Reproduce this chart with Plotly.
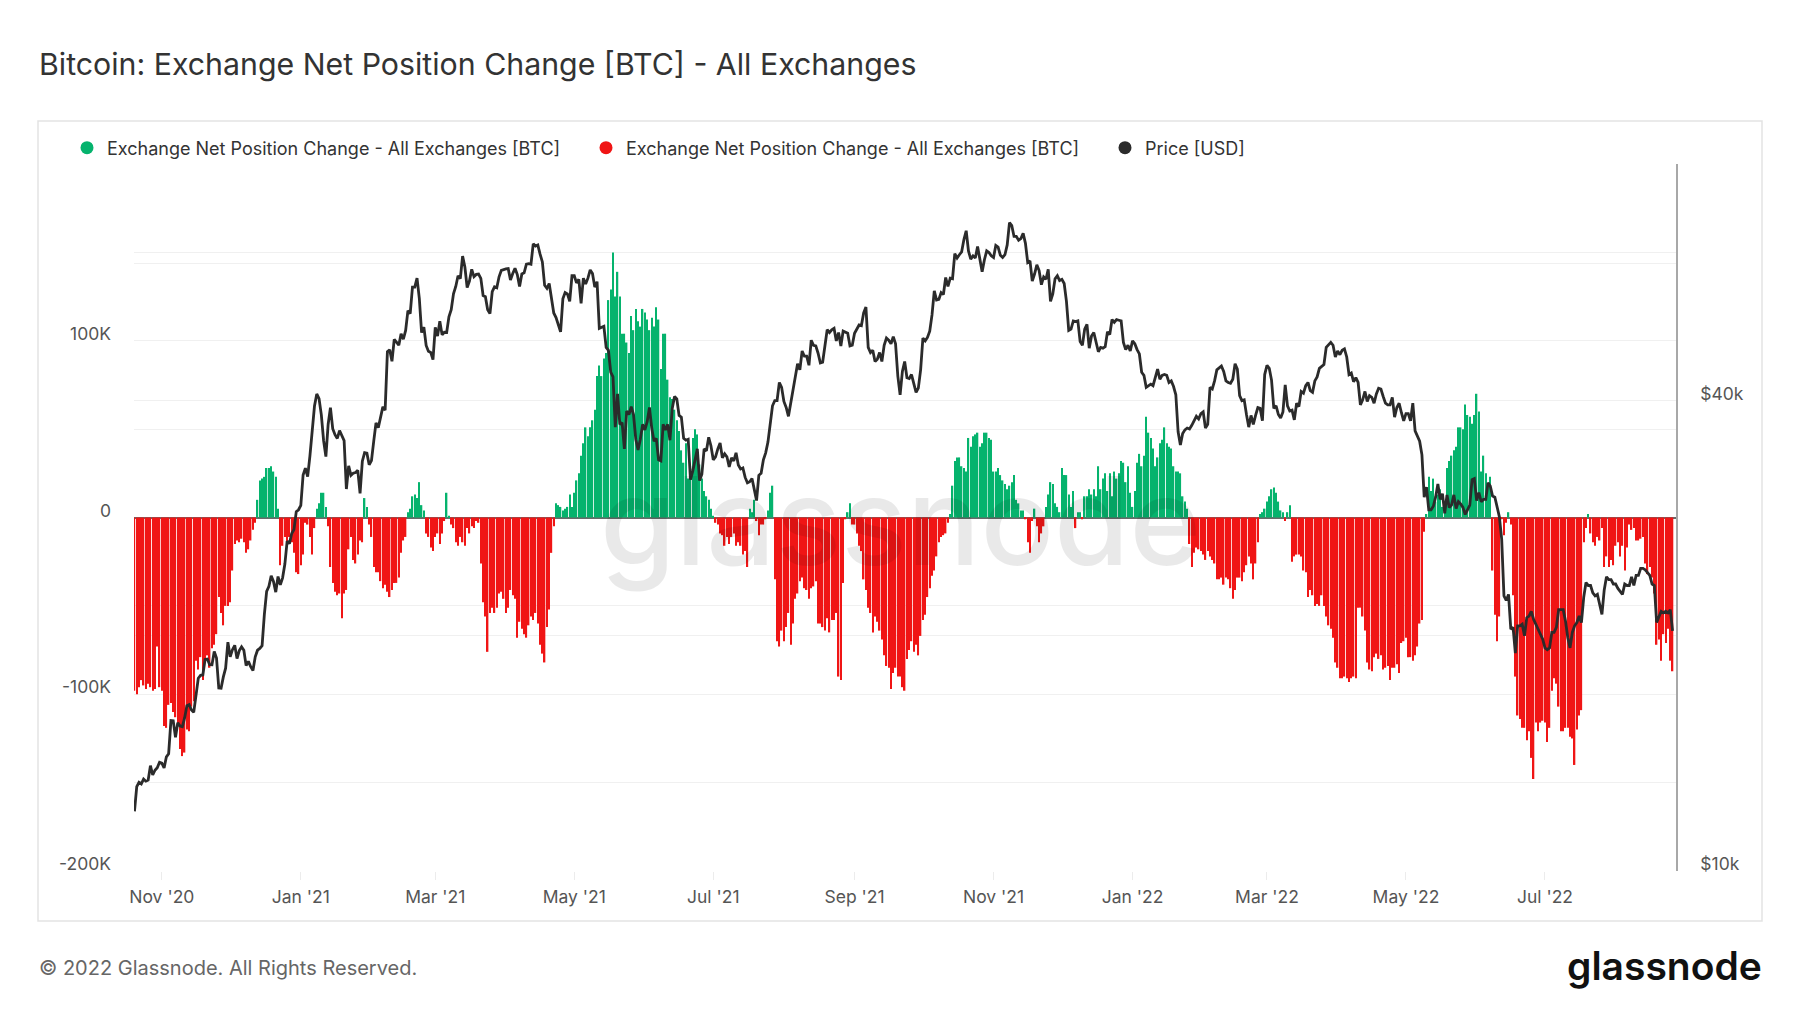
import numpy as np
import pandas as pd
import plotly.graph_objects as go

START_DATE = "2020-10-20"

# Exchange net position change, daily, in thousands of BTC
net_change_k = [
    -98, -100, -96, -92, -95, -97, -94, -96, -98, -97, -73, -96, -98,
    -118, -119, -106, -105, -110, -113, -118, -131, -135, -133, -120, -121, -107, -104, -81, -86, -79,
    -92, -80, -78, -85, -74, -72, -66, -45, -54, -61, -50, -50, -48, -30, -15, -13, -14, -12, -14, -20, -18, -13, -7, -3,
    10, 21, 22, 23, 28, 28, 29, 26, 23, 5,
    -27, -16, -11, -14, -11, -14, -20, -31, -32, -27, -21, -3, -4, -11, -21, -6,
    5, 8, 14, 14, 6,
    -5, -28, -37, -42, -44, -43, -57, -43, -41, -18, -11, -24, -26, -21, -13, -14,
    11, 6,
    -4, -11, -28, -31, -31, -36, -40, -38, -42, -45, -41, -37, -37, -34, -20, -13, -11,
    3, 5, 12, 13, 11, 20, 7, 4,
    -9, -11, -17, -19, -11, -9, -15, -9, -2,
    14, 1,
    -4, -6, -14, -16, -11, -14, -16, -6, -9, -5, -6, -2, -3,
    -26, -48, -56, -76, -54, -51, -54, -51, -43, -42, -46, -54, -51, -41, -44, -46, -68, -59, -63, -66, -68, -61, -56, -58, -54,
    -60, -72, -77, -82, -62, -52, -20, -5,
    8, 7, 6, 4, 5, 6, 13, 6, 14, 21,
    25, 35, 42, 51, 46, 51, 55, 61, 80, 86,
    80, 90, 93, 123, 129, 150, 125, 139, 125, 104,
    104, 99, 93, 114, 106, 118, 111, 108, 118, 116,
    112, 106, 113, 108, 119, 112, 84, 104, 104, 78,
    68, 67, 61, 55, 49, 38, 31, 42, 22, 29,
    45, 50, 47, 30, 22, 15, 12, 10, 5, 1,
    -3, -4, -9, -10, -16, -11, -15, -11, -9, -16, -14, -16, -21, -19, -28,
    5, 3, 10,
    -2, -10, -4, -4, -1,
    4, 14, 18,
    -35, -70, -73, -64, -70, -62, -54, -72, -60, -46, -43, -36, -34, -40, -41, -46, -40, -39, -36, -60,
    -60, -62, -64, -57, -65, -58, -58, -54, -90, -92, -37,
    -1,
    3, 8,
    -4, -4, -9, -16, -19, -35, -41, -51, -54, -65, -56, -59, -64, -69, -78, -84, -85, -97, -88, -85,
    -90, -90, -96, -98, -80, -75, -70, -76, -72, -78, -67, -58, -55, -45, -40, -33, -30, -22, -14, -11,
    -10, -9, -3,
    2, 18, 32, 34, 34, 29, 28, 26, 45, 40, 46, 47, 48, 40, 42, 48, 48, 45, 44, 26,
    26, 28, 24, 21, 19, 16, 18, 20, 24, 10, 8, 4, 4,
    -1, -14, -20, -2, 5, -5, -14, -9, -5,
    6, 13, 20, 19, 8, 6, 3, 28, 24, 24, 13, 6, 15, -6, 3, 3, -1, 12, 12, 16,
    13, 16, 12, 29, 16, 22, 25, 15, 25, 12, 26, 22, 25, 32, 31, 20, 29, 14, 6, 15,
    31, 36, 29, 35, 57, 48, 45, 39, 29, 34, 42, 44, 51, 42, 40, 39, 29, 26, 26, 25,
    12, 9, 5,
    -15, -28, -20, -17, -18, -19, -21, -24, -19, -22, -24, -26, -35, -35, -34, -38, -34, -35, -40, -46,
    -41, -34, -34, -36, -31, -27, -22, -26, -35, -26, -14,
    2, 3, 5, 9, 12, 16, 17, 14, 9, 4, 3, -2, 3, 7,
    -25, -22, -21, -21, -22, -30, -31, -45, -41, -44, -50, -49, -50, -44, -50, -56, -61, -63, -68, -82,
    -85, -91, -91, -90, -91, -93, -91, -90, -91, -51, -51, -56, -64, -82, -86,
    -87, -79, -77, -80, -78, -86, -85, -84, -92, -85, -85, -83, -88, -71, -70, -68, -79, -79, -81, -78,
    -73, -60, -58, -8,
    2, 23, 15, 22, 9, 13, 16, 6, 7, 28, 32, 35, 38, 40, 51, 51, 50, 64, 58, 57,
    53, 58, 70, 60, 26, 35, 25, 19, 23,
    -30, -55, -70, -56, -1, -10, -3, 3, -4, -44, -90, -112, -114, -119, -119, -126, -121, -136, -148, -116,
    -121, -116, -115, -116, -127, -119, -98, -91, -94, -107, -121, -121, -119, -119, -124, -125, -140, -120, -112, -109,
    -14,
    -6, 2, -9, -14, -16, -11, -13, -6, -28, -22, -28, -24, -27, -16, -14, -22, -16, -30, -17, -4,
    -7, -6, -13, -13, -12, -11, -26, -32, -28, -34, -43, -72, -69, -81, -66, -71, -63, -81, -87,
]

# BTC price, daily close, in thousands of USD
price_2020_oct = [11.92, 12.82, 12.99, 12.93, 13.11, 13.03, 13.07, 13.64, 13.27, 13.46, 13.56, 13.78]
price_2020_nov = [13.74, 13.55, 14.0, 14.13, 15.58, 15.57, 14.83, 15.48, 15.33, 15.3,
                  15.7, 16.28, 16.33, 16.07, 15.96, 16.72, 17.65, 17.8, 17.82, 18.66,
                  18.68, 18.37, 18.36, 19.1, 18.73, 17.15, 17.14, 17.72, 18.18, 19.63]
price_2020_dec = [18.8, 19.2, 19.45, 18.7, 19.15, 19.36, 19.17, 18.32, 18.55, 18.26,
                  18.06, 18.8, 19.17, 19.27, 19.43, 21.31, 22.8, 23.14, 23.87, 23.48,
                  22.75, 23.82, 23.24, 23.73, 24.71, 26.44, 26.25, 27.04, 27.36, 28.84, 29.0]
price_2021_jan = [29.37, 32.13, 32.78, 31.97, 33.99, 36.82, 39.37, 40.8, 40.25, 38.36,
                  35.57, 33.92, 37.32, 39.19, 36.82, 36.18, 35.79, 36.63, 36.07, 35.55,
                  30.83, 33.0, 32.1, 32.29, 32.37, 32.57, 30.43, 33.47, 34.32, 34.27, 33.11]
price_2021_feb = [33.52, 35.51, 37.47, 36.93, 38.14, 39.27, 38.9, 46.2, 46.48, 44.92,
                  47.91, 47.5, 47.1, 48.72, 47.94, 49.2, 52.15, 51.68, 55.89, 55.89,
                  57.41, 54.09, 48.89, 49.68, 47.07, 46.28, 46.11, 45.14]
price_2021_mar = [49.63, 48.38, 50.54, 48.56, 48.93, 48.91, 51.21, 52.3, 54.82, 56.0,
                  57.8, 57.33, 61.24, 59.3, 55.84, 56.9, 58.9, 57.65, 58.03, 58.1,
                  57.35, 54.53, 54.34, 52.3, 51.7, 55.14, 55.95, 55.78, 57.63, 58.73, 58.92]
price_2021_apr = [59.0, 59.04, 57.08, 58.2, 59.1, 58.0, 56.0, 58.1, 58.3, 59.8,
                  59.9, 59.8, 63.5, 63.1, 63.3, 61.6, 60.2, 56.2, 55.7, 56.5,
                  53.8, 51.8, 51.1, 50.1, 49.0, 54.0, 55.0, 54.8, 53.6, 57.8]
price_2021_may = [57.8, 56.6, 57.2, 53.3, 57.4, 56.4, 57.4, 58.8, 58.2, 55.9,
                  56.8, 49.5, 49.7, 49.8, 46.8, 46.4, 43.5, 42.9, 37.0, 40.8,
                  37.3, 37.5, 34.7, 38.8, 38.4, 39.3, 38.4, 35.7, 34.6, 35.7, 37.3]
price_2021_jun = [36.7, 37.6, 39.2, 36.9, 35.5, 35.8, 33.6, 33.5, 37.3, 36.7,
                  37.3, 35.6, 39.1, 40.5, 40.2, 38.3, 38.1, 35.8, 35.6, 35.7,
                  31.7, 32.5, 33.7, 34.7, 31.6, 32.2, 34.7, 34.5, 35.9, 35.0]
price_2021_jul = [33.6, 33.9, 34.7, 35.3, 33.8, 34.2, 33.9, 32.9, 33.8, 33.5,
                  34.3, 33.1, 32.7, 32.8, 31.9, 31.4, 31.5, 31.8, 30.8, 29.8,
                  32.1, 32.3, 33.6, 34.3, 35.4, 37.3, 39.4, 40.0, 40.0, 42.2, 41.6]
price_2021_aug = [39.9, 39.2, 38.2, 39.7, 40.9, 42.8, 44.6, 43.8, 46.3, 45.6,
                  45.6, 44.4, 47.8, 47.1, 47.0, 46.0, 44.7, 44.8, 46.7, 49.3,
                  48.9, 49.3, 49.5, 47.7, 48.9, 47.0, 49.1, 48.9, 48.8, 47.0, 47.1]
price_2021_sep = [48.8, 49.3, 50.0, 49.9, 51.8, 52.7, 46.8, 46.1, 46.4, 44.9,
                  45.2, 46.1, 44.9, 47.1, 48.1, 47.8, 47.3, 48.3, 47.3, 43.0,
                  40.7, 43.6, 44.9, 42.8, 42.7, 43.2, 42.2, 41.0, 41.5, 43.8]
price_2021_oct = [48.1, 47.7, 48.2, 49.1, 51.5, 55.3, 53.8, 53.9, 55.0, 54.7,
                  57.5, 56.0, 57.4, 57.3, 61.7, 60.9, 61.5, 62.0, 64.3, 66.0,
                  62.2, 60.7, 61.3, 60.9, 63.0, 60.4, 58.5, 60.6, 62.2, 61.9, 61.3]
price_2021_nov = [61.0, 63.2, 62.9, 61.4, 61.0, 61.5, 63.3, 67.6, 67.0, 64.9,
                  64.9, 64.2, 64.5, 65.5, 63.6, 60.1, 60.4, 56.9, 58.1, 59.7,
                  58.7, 56.3, 57.6, 57.2, 58.9, 53.6, 54.8, 57.3, 57.8, 57.0]
price_2021_dec = [57.2, 56.5, 53.6, 49.2, 49.4, 50.6, 50.5, 50.6, 47.6, 47.1,
                  49.4, 50.1, 46.7, 48.4, 48.9, 47.6, 46.2, 46.8, 46.7, 46.9,
                  49.0, 48.6, 50.8, 50.4, 50.8, 50.7, 50.6, 47.5, 46.5, 47.1, 46.3]
price_2022_jan = [47.7, 47.3, 46.5, 45.9, 43.5, 43.1, 41.6, 41.8, 42.0, 41.8,
                  42.7, 43.9, 42.6, 43.1, 43.2, 43.1, 42.2, 42.4, 41.7, 40.7,
                  36.5, 35.1, 36.3, 36.7, 36.9, 36.8, 37.2, 37.7, 38.2, 37.9, 38.5]
price_2022_feb = [38.7, 36.9, 37.3, 41.6, 41.4, 42.4, 43.8, 44.1, 44.3, 43.6,
                  42.4, 42.2, 42.1, 42.6, 44.6, 43.9, 40.6, 40.0, 40.1, 38.4,
                  37.0, 38.3, 37.3, 38.3, 39.2, 39.1, 37.7, 43.2]
price_2022_mar = [44.4, 44.0, 42.5, 39.1, 39.4, 38.4, 38.0, 38.7, 41.9, 39.4,
                  38.8, 38.9, 37.8, 39.7, 39.3, 41.1, 40.9, 41.8, 42.2, 41.2,
                  41.0, 42.4, 42.9, 44.0, 44.3, 44.5, 46.8, 47.1, 47.5, 47.1, 45.5]
price_2022_apr = [46.3, 45.8, 46.4, 46.6, 45.5, 43.2, 43.4, 42.3, 42.8, 42.2,
                  39.5, 40.1, 41.1, 39.9, 40.6, 40.4, 39.7, 40.8, 41.5, 41.4,
                  40.5, 39.7, 39.5, 39.5, 40.4, 38.1, 39.2, 39.7, 38.6, 37.7]
price_2022_may = [38.5, 38.5, 37.7, 39.7, 36.6, 36.0, 35.5, 34.1, 30.1, 31.0,
                  29.0, 29.0, 29.3, 30.1, 31.3, 29.9, 30.4, 28.7, 30.3, 29.2,
                  29.4, 30.3, 29.1, 29.7, 29.5, 29.2, 28.6, 29.0, 29.4, 31.7, 31.8]
price_2022_jun = [29.8, 30.5, 29.7, 29.9, 29.9, 31.4, 31.1, 30.2, 30.1, 29.1,
                  28.4, 26.6, 22.5, 22.2, 22.6, 20.4, 20.5, 19.0, 20.6, 20.6,
                  20.7, 20.0, 21.1, 21.2, 21.5, 21.0, 20.7, 20.3, 20.1, 19.8]
price_2022_jul = [19.3, 19.2, 19.3, 20.2, 20.2, 20.5, 21.6, 21.6, 21.6, 20.9,
                  19.9, 19.3, 20.2, 20.6, 20.8, 21.2, 20.8, 22.4, 23.4, 23.2,
                  23.2, 22.7, 22.5, 22.6, 22.0, 21.3, 22.9, 23.8, 23.6, 23.6, 23.3]
price_2022_aug = [23.3, 23.0, 22.8, 22.6, 23.3, 23.2, 23.2, 23.8, 23.2, 23.9,
                  23.9, 24.4, 24.4, 24.3, 24.1, 23.9, 23.3, 23.2, 20.8, 21.2,
                  21.5, 21.4, 21.5, 21.4, 21.6, 20.3]

price_k = (price_2020_oct + price_2020_nov + price_2020_dec + price_2021_jan + price_2021_feb
           + price_2021_mar + price_2021_apr + price_2021_may + price_2021_jun + price_2021_jul
           + price_2021_aug + price_2021_sep + price_2021_oct + price_2021_nov + price_2021_dec
           + price_2022_jan + price_2022_feb + price_2022_mar + price_2022_apr + price_2022_may
           + price_2022_jun + price_2022_jul + price_2022_aug)

left_tickvals = [-200000, -150000, -100000, -50000, 0, 50000, 100000, 150000, 200000]
left_ticktext = ["-200K", "", "-100K", "", "0", "", "100K", "", ""]
right_tickvals = [10000, 20000, 40000, 60000]
right_ticktext = ["$10k", "", "$40k", ""]

GREEN = "#05b36d"
RED = "#f01515"
PRICE_COL = "#2b2b2b"
FONT = "Inter"

n = min(len(net_change_k), len(price_k))
dates = pd.date_range(START_DATE, periods=n, freq="D")
net = np.array(net_change_k[:n], dtype=float) * 1000
price = np.array(price_k[:n], dtype=float) * 1000
pos = np.where(net > 0, net, 0.0)
neg = np.where(net < 0, net, 0.0)

fig = go.Figure()
fig.add_trace(go.Bar(x=dates, y=pos, marker=dict(color=GREEN, line=dict(width=0)),
                     showlegend=False, hoverinfo="skip"))
fig.add_trace(go.Bar(x=dates, y=neg, marker=dict(color=RED, line=dict(width=0)),
                     showlegend=False, hoverinfo="skip"))
fig.add_trace(go.Scatter(x=dates, y=price, yaxis="y2", mode="lines",
                         line=dict(color=PRICE_COL, width=2.8), showlegend=False))

# legend entries (circles, as in the reference)
for name, col in [("Exchange Net Position Change - All Exchanges [BTC]", GREEN),
                  ("Exchange Net Position Change - All Exchanges [BTC] ", RED),
                  ("Price [USD]", PRICE_COL)]:
    fig.add_trace(go.Scatter(x=[None], y=[None], mode="markers", name=name,
                             marker=dict(color=col, size=13, symbol="circle")))

# pixel geometry helpers (plot area 134..1676 x 164..871)
L, R, T, B = 134, 1676, 164, 871
def px(xp):
    return (xp - L) / (R - L)
def py(yp):
    return (B - yp) / (B - T)

x0 = pd.Timestamp(START_DATE) - pd.Timedelta(hours=5)
x1 = pd.Timestamp(START_DATE) + pd.Timedelta(days=676.5)

fig.update_layout(
    width=1800, height=1013,
    margin=dict(l=L, r=1800 - R, t=T, b=1013 - B),
    paper_bgcolor="white", plot_bgcolor="white",
    font=dict(family=FONT, color="#555555", size=17),
    barmode="relative", bargap=0.38,
    showlegend=True,
    legend=dict(orientation="h", x=px(67), xanchor="left", y=py(148), yanchor="middle",
                font=dict(size=18, color="#333333", family=FONT),
                itemwidth=30, entrywidth=474, entrywidthmode="pixels",
                bgcolor="rgba(0,0,0,0)"),
    xaxis=dict(type="date", range=[x0, x1], tickformat="%b '%y", dtick="M2",
               tick0="2020-11-01", ticks="outside", ticklen=8, tickcolor="#ececec",
               showgrid=False, zeroline=False, showline=False, ticklabelstandoff=2,
               tickfont=dict(size=17.5, color="#555555")),
    yaxis=dict(range=[-200000, 200000], tickmode="array", tickvals=left_tickvals,
               ticktext=left_ticktext, showgrid=True, gridcolor="#f0f0f0", gridwidth=1,
               zeroline=True, zerolinecolor="#6a6a6a", zerolinewidth=2.2,
               showline=False, ticks="", ticklabelstandoff=22, ticklabelshift=-7,
               tickfont=dict(size=17.5, color="#555555")),
    yaxis2=dict(overlaying="y", side="right", type="log", range=[4.0, 4.905],
                tickmode="array", tickvals=right_tickvals, ticktext=right_ticktext,
                showgrid=True, gridcolor="#f0f0f0", zeroline=False,
                showline=True, linecolor="#a8a8a8", linewidth=1.6,
                ticks="", ticklabelstandoff=19, ticklabelshift=-7,
                tickfont=dict(size=17.5, color="#555555")),
)

fig.add_shape(type="rect", xref="paper", yref="paper",
              x0=px(38), x1=px(1762), y0=py(921), y1=py(121),
              line=dict(color="#e3e3e3", width=1.5), fillcolor="rgba(0,0,0,0)", layer="below")

fig.add_annotation(text="Bitcoin: Exchange Net Position Change [BTC] - All Exchanges",
                   xref="paper", yref="paper", x=px(37), y=py(64), xanchor="left", yanchor="middle",
                   showarrow=False, font=dict(family=FONT, size=30.3, color="#333333", weight=400))
fig.add_annotation(text="glassnode", xref="paper", yref="paper", x=px(900), y=py(520),
                   xanchor="center", yanchor="middle", showarrow=False,
                   font=dict(family=FONT, size=122, color="rgba(0,0,0,0.085)", weight=500))
fig.add_annotation(text="© 2022 Glassnode. All Rights Reserved.", xref="paper", yref="paper",
                   x=px(37), y=py(968), xanchor="left", yanchor="middle", showarrow=False,
                   font=dict(family=FONT, size=20, color="#666666"))
fig.add_annotation(text="glassnode", xref="paper", yref="paper", x=px(1764), y=py(965),
                   xanchor="right", yanchor="middle", showarrow=False,
                   font=dict(family=FONT, size=39, color="#111111", weight=600))

fig.write_html("out.html", config={"displayModeBar": False},
               post_script="document.body.style.margin='0';document.body.style.overflow='hidden';")
